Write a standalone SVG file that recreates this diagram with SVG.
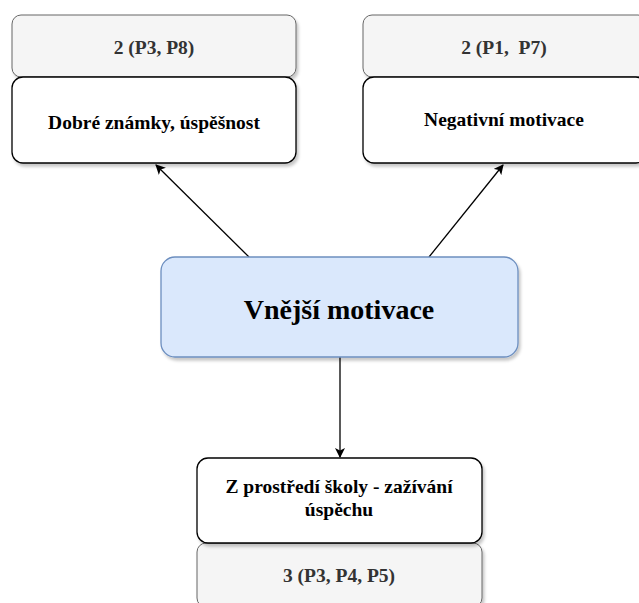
<svg xmlns="http://www.w3.org/2000/svg" width="639" height="603" viewBox="0 0 639 603">
  <defs>
    <filter id="shadow" x="-10%" y="-10%" width="120%" height="130%">
      <feDropShadow dx="2" dy="3" stdDeviation="1.6" flood-color="#000" flood-opacity="0.22"/>
    </filter>
    <marker id="arrow" viewBox="0 0 10 10" refX="9" refY="5" markerWidth="10" markerHeight="10" markerUnits="userSpaceOnUse" orient="auto">
      <path d="M0,0 L10,5 L0,10 L2.5,5 Z" fill="#000"/>
    </marker>
    <style>
      .count { fill: #f5f5f5; stroke: #666666; stroke-width: 1; filter: url(#shadow); }
      .label { fill: #ffffff; stroke: #000000; stroke-width: 1.3; filter: url(#shadow); }
      .main { fill: #dae8fc; stroke: #6c8ebf; stroke-width: 1.3; filter: url(#shadow); }
      text { font-family: "Liberation Serif", "Times New Roman", serif; font-weight: bold; text-anchor: middle; white-space: pre; }
      .t-count { font-size: 19.5px; fill: #333333; }
      .t-label { font-size: 19.5px; fill: #000000; }
      .t-main { font-size: 28px; fill: #000000; }
      .edge { fill: none; stroke: #000000; stroke-width: 1.3; marker-end: url(#arrow); }
    </style>
  </defs>

  <!-- connectors -->
  <g id="edges">
    <line class="edge" x1="249" y1="257" x2="156" y2="165"/>
    <line class="edge" x1="429" y1="257" x2="503" y2="165"/>
    <line class="edge" x1="340" y1="357" x2="340" y2="457"/>
  </g>

  <!-- top-left: good grades -->
  <g id="node-count-grades">
    <rect class="count" x="12" y="15" width="284" height="62" rx="9"/>
    <text class="t-count" x="154" y="54">2 (P3, P8)</text>
  </g>
  <g id="node-grades">
    <rect class="label" x="12" y="77" width="284" height="86" rx="11"/>
    <text class="t-label" x="154" y="129">Dobré známky, úspěšnost</text>
  </g>

  <!-- top-right: negative motivation -->
  <g id="node-count-negative">
    <rect class="count" x="363" y="15" width="284" height="62" rx="9"/>
    <text class="t-count" x="504" y="54">2 (P1,  P7)</text>
  </g>
  <g id="node-negative">
    <rect class="label" x="363" y="77" width="284" height="86" rx="11"/>
    <text class="t-label" x="504" y="126">Negativní motivace</text>
  </g>

  <!-- centre -->
  <g id="node-external">
    <rect class="main" x="161" y="257" width="357" height="100" rx="14"/>
    <text class="t-main" x="339" y="319">Vnější motivace</text>
  </g>

  <!-- bottom: school environment -->
  <g id="node-count-school">
    <rect class="count" x="197" y="543" width="285" height="64" rx="9"/>
    <text class="t-count" x="339" y="582">3 (P3, P4, P5)</text>
  </g>
  <g id="node-school">
    <rect class="label" x="197" y="458" width="285" height="85" rx="11"/>
    <text class="t-label" x="339" y="493">Z prostředí školy - zažívání</text>
    <text class="t-label" x="339" y="516">úspěchu</text>
  </g>
</svg>
